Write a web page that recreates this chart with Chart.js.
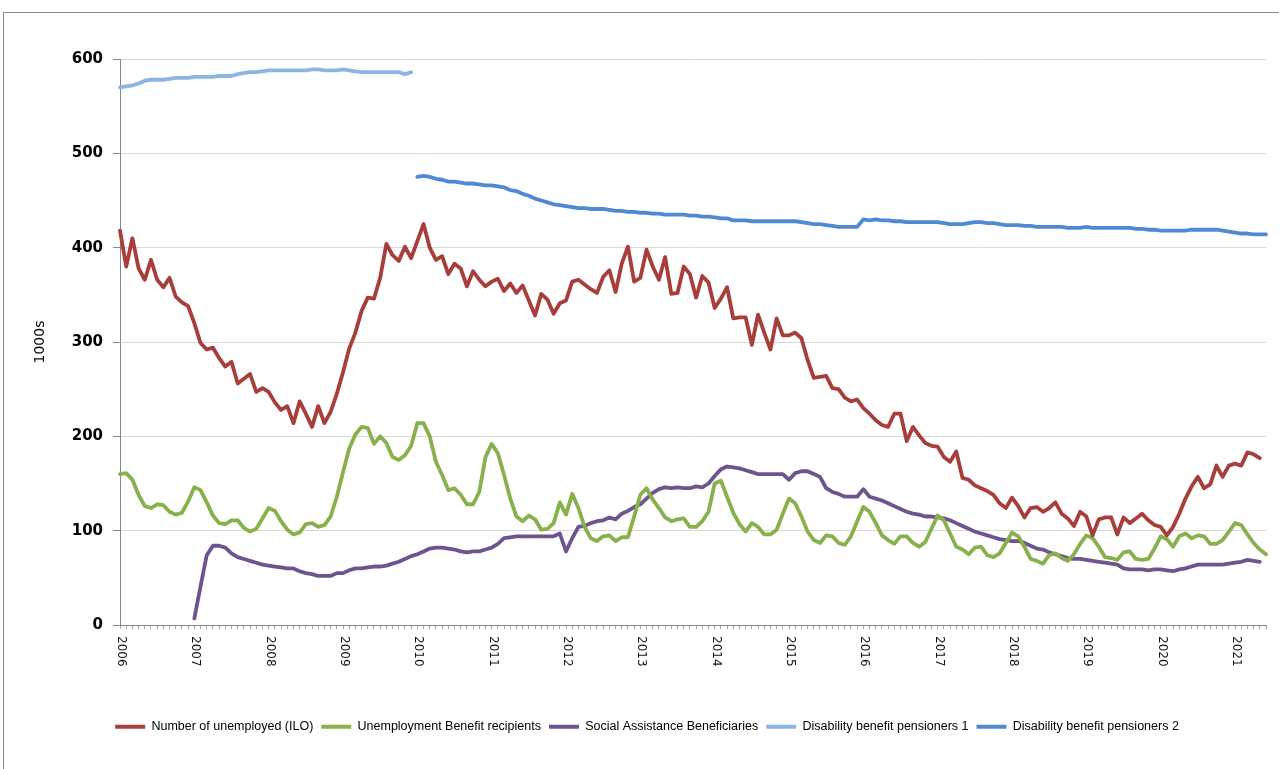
<!DOCTYPE html>
<html>
<head>
<meta charset="utf-8">
<script src="https://cdn.jsdelivr.net/npm/chart.js@4.4.1/dist/chart.umd.min.js"></script>
<style>
  html, body { margin: 0; padding: 0; background: #fff; }
  #wrap { position: relative; width: 1279px; height: 769px; overflow: hidden; }
  #frame { position: absolute; left: 3px; top: 12px; width: 1300px; height: 800px;
           border-left: 1px solid #8a8a8a; border-top: 1px solid #8a8a8a; }
  #cv { position: absolute; left: 0; top: 0; }
</style>
</head>
<body>
<div id="wrap">
  <div id="frame"></div>
  <canvas id="cv" width="1279" height="769"></canvas>
</div>
<script>
// ---- Tick labels / categories ----
const years = ['2006','2007','2008','2009','2010','2011','2012','2013','2014','2015','2016','2017','2018','2019','2020','2021'];
const monthsInLastYear = 6;
const yTicks = [0, 100, 200, 300, 400, 500, 600];
const yTitle = '1000s';
const seriesNames = ['Number of unemployed (ILO)', 'Unemployment Benefit recipients', 'Social Assistance Beneficiaries', 'Disability benefit pensioners 1', 'Disability benefit pensioners 2'];

// ---- Series values (thousands), monthly from Jan 2006 ----
const unemployedILO = [
  418, 380, 410, 378, 366, 387, 366, 358, 368, 348, 342, 338,
  320, 299, 292, 294, 283, 274, 279, 256, 261, 266, 247, 251,
  247, 236, 228, 232, 214, 237, 224, 210, 232, 214, 226, 245,
  268, 293, 310, 333, 347, 346, 368, 404, 392, 386, 401, 389,
  407, 425, 400, 387, 391, 372, 383, 378, 359, 375, 366, 359,
  364, 367, 354, 362, 352, 360, 344, 328, 351, 345, 330, 341,
  344, 364, 366, 361, 356, 352, 369, 376, 353, 383, 401, 364,
  368, 398, 380, 366, 390, 351, 352, 380, 372, 347, 370, 363,
  336, 346, 358, 325, 326, 326, 297, 329, 310, 292, 325, 307,
  307, 310, 304, 281, 262, 263, 264, 251, 250, 241, 237, 239,
  230, 224, 217, 212, 210, 224, 224, 195, 210, 201, 193, 190,
  189, 178, 173, 184, 156, 154, 148, 145, 142, 138, 129, 124,
  135, 126, 114, 124, 125, 120, 124, 130, 118, 113, 105, 120,
  115, 95, 112, 114, 114, 96, 114, 108, 113, 118, 111, 106,
  104, 95, 104, 118, 134, 147, 157, 145, 149, 169, 157, 169,
  171, 169, 183, 181, 177
];
const benefitRecipients = [
  160, 161, 154, 138, 126, 124, 128, 127, 120, 117, 119, 131,
  146, 143, 130, 116, 108, 107, 111, 111, 103, 99, 102, 113,
  124, 121, 110, 101, 96, 98, 107, 108, 104, 106, 115, 136,
  162, 187, 202, 210, 209, 192, 200, 193, 178, 175, 180, 190,
  214, 214, 200, 173, 159, 143, 145, 138, 128, 128, 141, 178,
  192, 182, 159, 134, 115, 110, 116, 112, 101, 102, 108, 130,
  117, 139, 124, 104, 92, 89, 94, 95, 89, 93, 93, 115,
  138, 145, 133, 124, 114, 110, 112, 113, 104, 104, 110, 120,
  150, 153, 136, 119, 107, 99, 108, 104, 96, 96, 101, 118,
  134, 129, 115, 99, 90, 87, 95, 94, 87, 85, 94, 110,
  125, 120, 108, 95, 90, 86, 94, 94, 87, 83, 88, 102,
  116, 111, 97, 83, 80, 75, 82, 83, 74, 72, 76, 87,
  98, 94, 83, 70, 68, 65, 74, 76, 71, 68, 75, 86,
  95, 92, 83, 72, 71, 69, 77, 78, 70, 69, 70, 81,
  94, 91, 83, 94, 97, 92, 95, 94, 86, 86, 90, 99,
  108, 106, 96, 87, 80, 75
];
const socialAssistanceStart = 12; // Jan 2007
const socialAssistance = [
  7, 41, 74, 84, 84, 82, 76, 72, 70, 68, 66, 64,
  63, 62, 61, 60, 60, 57, 55, 54, 52, 52, 52, 55,
  55, 58, 60, 60, 61, 62, 62, 63, 65, 67, 70, 73,
  75, 78, 81, 82, 82, 81, 80, 78, 77, 78, 78, 80,
  82, 86, 92, 93, 94, 94, 94, 94, 94, 94, 94, 97,
  78, 92, 104, 105, 108, 110, 111, 114, 112, 118, 121, 125,
  128, 134, 140, 144, 146, 145, 146, 145, 145, 147, 146, 150,
  158, 165, 168, 167, 166, 164, 162, 160, 160, 160, 160, 160,
  154, 161, 163, 163, 160, 157, 145, 141, 139, 136, 136, 136,
  144, 136, 134, 132, 129, 126, 123, 120, 118, 117, 115, 115,
  114, 113, 111, 108, 105, 102, 99, 97, 95, 93, 91, 90,
  89, 89, 87, 84, 81, 80, 77, 75, 73, 71, 70, 70,
  69, 68, 67, 66, 65, 64, 60, 59, 59, 59, 58, 59,
  59, 58, 57, 59, 60, 62, 64, 64, 64, 64, 64, 65,
  66, 67, 69, 68, 67
];
const disability1 = [
  570, 571, 572, 574, 577, 578, 578, 578, 579, 580, 580, 580,
  581, 581, 581, 581, 582, 582, 582, 584, 585, 586, 586, 587,
  588, 588, 588, 588, 588, 588, 588, 589, 589, 588, 588, 588,
  589, 588, 587, 586, 586, 586, 586, 586, 586, 586, 584, 586
];
const disability2Start = 48; // Jan 2010
const disability2 = [
  475, 476, 475, 473, 472, 470, 470, 469, 468, 468, 467, 466,
  466, 465, 464, 461, 460, 457, 455, 452, 450, 448, 446, 445,
  444, 443, 442, 442, 441, 441, 441, 440, 439, 439, 438, 438,
  437, 437, 436, 436, 435, 435, 435, 435, 434, 434, 433, 433,
  432, 431, 431, 429, 429, 429, 428, 428, 428, 428, 428, 428,
  428, 428, 427, 426, 425, 425, 424, 423, 422, 422, 422, 422,
  430, 429, 430, 429, 429, 428, 428, 427, 427, 427, 427, 427,
  427, 426, 425, 425, 425, 426, 427, 427, 426, 426, 425, 424,
  424, 424, 423, 423, 422, 422, 422, 422, 422, 421, 421, 421,
  422, 421, 421, 421, 421, 421, 421, 421, 420, 420, 419, 419,
  418, 418, 418, 418, 418, 419, 419, 419, 419, 419, 418, 417,
  416, 415, 415, 414, 414, 414
];

// ---- Build category labels from years ----
const categories = [];
years.forEach((y, yi) => {
  const n = (yi === years.length - 1) ? monthsInLastYear : 12;
  for (let m = 1; m <= n; m++) categories.push(y + '-' + String(m).padStart(2, '0'));
});
const pad = (start, arr) => new Array(start).fill(null).concat(arr);

const colors = ['#a83e3a', '#88b04b', '#6e548f', '#8db4e3', '#4f89d6'];
const seriesData = [unemployedILO, benefitRecipients, pad(socialAssistanceStart, socialAssistance), disability1, pad(disability2Start, disability2)];

const yearLabelPlugin = {
  id: 'yearLabels',
  afterDraw(chart) {
    const ctx = chart.ctx;
    const xs = chart.scales.x;
    ctx.save();
    ctx.font = '12px "DejaVu Sans"';
    ctx.fillStyle = '#111';
    ctx.textAlign = 'left';
    ctx.textBaseline = 'middle';
    years.forEach((y, i) => {
      const px = xs.getPixelForValue(i * 12);
      ctx.save();
      ctx.translate(px + 1, xs.top + 11);
      ctx.rotate(Math.PI / 2);
      ctx.fillText(y, 0, 0);
      ctx.restore();
    });
    ctx.restore();
  }
};

new Chart(document.getElementById('cv'), {
  type: 'line',
  data: {
    labels: categories,
    datasets: seriesNames.map((name, i) => ({
      label: name,
      data: seriesData[i],
      borderColor: colors[i],
      backgroundColor: colors[i],
      borderWidth: 3.8,
      pointRadius: 0,
      tension: 0,
      spanGaps: false,
      borderJoinStyle: 'round',
      borderCapStyle: 'round'
    }))
  },
  options: {
    responsive: false,
    animation: false,
    layout: { padding: { left: 28, right: 13, top: 59, bottom: 26 } },
    plugins: {
      tooltip: { enabled: false },
      legend: {
        position: 'bottom',
        labels: {
          boxWidth: 30,
          boxHeight: 4,
          padding: 8,
          color: '#000',
          font: { family: '"Liberation Sans", Arial, sans-serif', size: 12.5 },
          generateLabels: (chart) => Chart.defaults.plugins.legend.labels.generateLabels(chart).map(l => Object.assign(l, { lineWidth: 0 }))
        }
      }
    },
    scales: {
      x: {
        type: 'category',
        offset: false,
        ticks: { display: false, autoSkip: false },
        grid: { display: true, drawOnChartArea: false, drawTicks: true, tickLength: 4, tickColor: '#a6a6a6', offset: false },
        border: { display: true, color: '#868686', width: 1 },
        afterFit(scale) { scale.height = 87.5; }
      },
      y: {
        min: 0,
        max: 600,
        afterBuildTicks(scale) { scale.ticks = yTicks.map(v => ({ value: v })); },
        ticks: {
          padding: 10,
          color: '#000',
          font: { family: '"DejaVu Sans"', size: 15, weight: 'bold' }
        },
        grid: { color: '#d9d9d9', tickColor: '#868686', tickLength: 7, drawTicks: true },
        border: { display: true, color: '#868686', width: 1 },
        title: {
          display: true,
          text: yTitle,
          color: '#000',
          font: { family: '"DejaVu Sans"', size: 14 },
          padding: { top: 4, bottom: 0 }
        },
        afterFit(scale) { scale.width = 92; }
      }
    }
  },
  plugins: [yearLabelPlugin]
});
</script>
</body>
</html>
